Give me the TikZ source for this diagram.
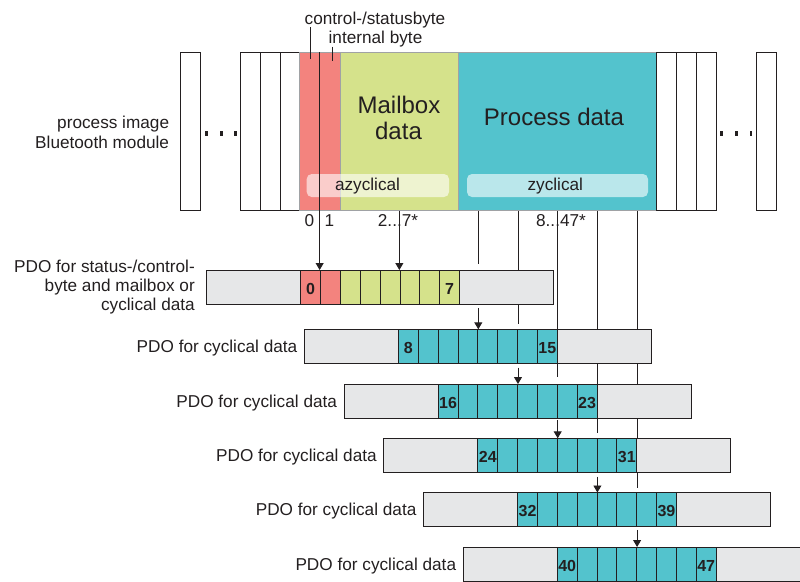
\documentclass[tikz,border=0pt]{standalone}
\usepackage{fontspec}
\setmainfont{Liberation Sans}
\usetikzlibrary{arrows.meta,calc,backgrounds}
\definecolor{redc}{HTML}{F3837E}
\definecolor{greenc}{HTML}{D5E28B}
\definecolor{cyanc}{HTML}{53C3CD}
\definecolor{grayc}{HTML}{E6E7E8}
\definecolor{linec}{HTML}{231F20}
\definecolor{bandc}{HTML}{A0A2A5}
\definecolor{textc}{HTML}{231F20}
\begin{document}
\begin{tikzpicture}[x=1pt,y=-1pt,
  ln/.style={draw=linec,line width=0.9pt},
  arr/.style={ln,-{Triangle[length=7pt,width=8pt]}},
  cellbase/.style={draw=linec,line width=0.9pt,inner sep=0pt,outer sep=0pt,minimum height=34.3pt},
  cyancell/.style={cellbase,fill=cyanc,minimum width=19.85pt},
  redcell/.style={cellbase,fill=redc,minimum width=19.85pt},
  greencell/.style={cellbase,fill=greenc,minimum width=19.85pt},
  graybox/.style={cellbase,fill=grayc,minimum width=94pt},
  num/.style={font={\fontsize{16}{16}\selectfont\bfseries},text=textc,yshift=-1.5pt,inner sep=0pt},
  lbl/.style={font={\fontsize{17.2}{19.3}\selectfont},text=textc,inner sep=0pt},
  big/.style={font={\fontsize{24}{26}\selectfont},text=textc,inner sep=0pt},
  topwhite/.style={draw=linec,line width=0.9pt,fill=white,inner sep=0pt,outer sep=0pt,minimum height=158.7pt,anchor=north west},
  band/.style={draw=bandc,line width=0.9pt,inner sep=0pt,outer sep=0pt,minimum height=158.7pt,anchor=north west},
  pill/.style={fill=white,fill opacity=0.6,rounded corners=5pt,inner sep=0pt,outer sep=0pt,minimum height=23pt,anchor=north west},
  dotm/.style={fill=linec,inner sep=0pt,minimum width=2.6pt,minimum height=5pt}
]
\useasboundingbox (0,0) rectangle (800,581);

% ---------- process image ----------
\node[topwhite,minimum width=20.7pt] (tl0) at (180,52) {};
\node[topwhite,minimum width=20pt] (tw1) at (240,52) {};
\node[topwhite,minimum width=20pt] (tw2) at (260,52) {};
\node[topwhite,minimum width=19.3pt] (tw3) at (280,52) {};
\node[band,fill=redc,minimum width=40.7pt] (tred) at (299.3,52) {};
\node[band,fill=greenc,minimum width=118.7pt] (tg) at (340,52) {};
\node[band,fill=cyanc,minimum width=198pt] (tc) at (458.7,52) {};
\node[topwhite,minimum width=20pt] (twr1) at (656.7,52) {};
\node[topwhite,minimum width=20pt] (twr2) at (676.7,52) {};
\node[topwhite,minimum width=20pt] (twr3) at (696.7,52) {};
\node[topwhite,minimum width=20pt] (tr9) at (756,52) {};

\node[dotm] (dl1) at (206.7,133.3) {};
\node[dotm] (dl2) at (221.7,133.3) {};
\node[dotm] (dl3) at (235.5,133.3) {};
\node[dotm] (dr1) at (721.7,133.3) {};
\node[dotm] (dr2) at (736.7,133.3) {};
\node[dotm] (dr3) at (751,133.3) {};

\node[pill,minimum width=142.3pt] (pa) at (306.7,174) {};
\node[pill,minimum width=181pt] (pz) at (467,174) {};
\node[lbl,anchor=base] (ta) at (367.5,190.5) {azyclical};
\node[lbl,anchor=base] (tz) at (555.3,190.5) {zyclical};

\node[big,anchor=base] (tmb1) at (399,113.3) {Mailbox};
\node[big,anchor=base] (tmb2) at (398.5,139.3) {data};
\node[big,anchor=base] (tpd) at (554,125) {Process data};

\node[lbl,anchor=base east] (tpi1) at (169.3,128.3) {process image};
\node[lbl,anchor=base east] (tpi2) at (169.3,148.3) {Bluetooth module};

\node[lbl,anchor=base] (tcs1) at (375,24.5) {control-/statusbyte};
\node[lbl,anchor=base] (tcs2) at (375.5,43) {internal byte};
\coordinate (cs1a) at (310,27);
\coordinate (cs1b) at (310,59.3);
\coordinate (cs2a) at (332,46.7);
\coordinate (cs2b) at (332,61);
\draw[ln] (cs1a) -- (cs1b);
\draw[ln] (cs2a) -- (cs2b);

\node[lbl,anchor=base] (n0) at (309.3,226) {0};
\node[lbl,anchor=base] (n1) at (329.3,226) {1};
\node[lbl,anchor=base] (n27) at (398,226) {2...7*};
\node[lbl,anchor=base] (n847) at (561,226) {8...47*};

% ---------- row 1 ----------
\node[graybox,anchor=north east] (r1-L) at (300.7,270) {};
\node[redcell,anchor=north west] (r1-c0) at (300.7,270) {};
\node[redcell,anchor=north west] (r1-c1) at (320.55,270) {};
\foreach \k in {2,...,7}
  \node[greencell,anchor=north west] (r1-c\k) at ({300.7+19.85*\k},270) {};
\node[graybox,anchor=north west] (r1-R) at (459.5,270) {};
\node[num] at (r1-c0) {0};
\node[num] at (r1-c7) {7};
\node[lbl,align=right,anchor=east] (lab1) at ([xshift=-11.7pt]r1-L.west)
  {PDO for status-/control-\\byte and mailbox or\\cyclical data};

% ---------- rows 2..6 ----------
\foreach \n/\c/\t/\f in {2/398.5/329.3/8, 3/438.2/384/16, 4/477.9/438.3/24, 5/517.6/492.5/32, 6/557.3/547/40}{
  \node[graybox,anchor=north east] (r\n-L) at (\c,\t) {};
  \foreach \k in {0,...,7}
    \node[cyancell,anchor=north west] (r\n-c\k) at ({\c+19.85*\k},\t) {};
  \node[graybox,anchor=north west] (r\n-R) at ({\c+158.8},\t) {};
  \pgfmathtruncatemacro\lst{\f+7}
  \node[num] at (r\n-c0) {\f};
  \node[num] at (r\n-c7) {\lst};
  \node[lbl,anchor=base east] (lab\n) at ([xshift=-7pt,yshift=-6pt]r\n-L.west) {PDO for cyclical data};
}

% ---------- connectors ----------
\draw[arr] (tred.north) -- (tred.north |- r1-L.north);
\draw[arr] (tg.south) -- (tg.south |- r1-L.north);

\coordinate (v2) at (478.3,210.7);
\coordinate (v3) at (518,210.7);
\coordinate (v4) at (557.7,210.7);
\coordinate (v5) at (597.4,210.7);
\coordinate (v6) at (637.1,210.7);

\begin{pgfonlayer}{background}
\draw[ln] (v2) -- ($(v2 |- r1-L.north)+(0,-6)$);
\draw[arr] ($(v2 |- r1-L.south)+(0,4)$) -- (v2 |- r2-L.north);
\draw[ln] (v3) -- ($(v3 |- r2-L.north)+(0,-5)$);
\draw[arr] ($(v3 |- r2-L.south)+(0,4)$) -- (v3 |- r3-L.north);
\draw[ln] (v4) -- ($(v4 |- r3-L.north)+(0,-7)$);
\draw[arr] ($(v4 |- r3-L.south)+(0,2)$) -- (v4 |- r4-L.north);
\draw[ln] (v5) -- ($(v5 |- r4-L.north)+(0,-5)$);
\draw[arr] ($(v5 |- r4-L.south)+(0,4)$) -- (v5 |- r5-L.north);
\draw[ln] (v6) -- ($(v6 |- r5-L.north)+(0,-5)$);
\draw[arr] ($(v6 |- r5-L.south)+(0,3)$) -- (v6 |- r6-L.north);
\end{pgfonlayer}
\end{tikzpicture}
\end{document}
